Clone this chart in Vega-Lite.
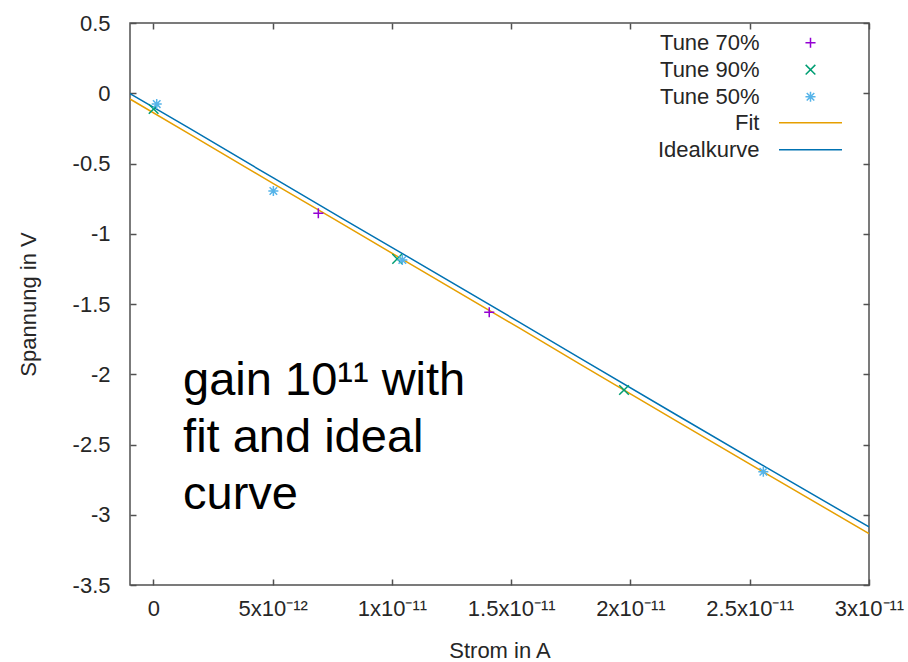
{
  "$schema": "https://vega.github.io/schema/vega-lite/v6.json",
  "width": 739,
  "height": 562,
  "autosize": {"type": "none"},
  "padding": {"left": 130, "top": 23, "right": 39, "bottom": 77},
  "background": "white",
  "datasets": {
    "points": [
      {"I": 6.915e-12, "V": -0.854, "series": "Tune 70%"},
      {"I": 1.408e-11, "V": -1.559, "series": "Tune 70%"},
      {"I": 0.01e-12, "V": -0.112, "series": "Tune 90%"},
      {"I": 1.022e-11, "V": -1.179, "series": "Tune 90%"},
      {"I": 1.973e-11, "V": -2.112, "series": "Tune 90%"},
      {"I": 0.14e-12, "V": -0.077, "series": "Tune 50%"},
      {"I": 5.03e-12, "V": -0.696, "series": "Tune 50%"},
      {"I": 1.0436e-11, "V": -1.187, "series": "Tune 50%"},
      {"I": 2.557e-11, "V": -2.694, "series": "Tune 50%"}
    ],
    "lines": [
      {"I": -0.98e-12, "V": -0.041, "series": "Fit"},
      {"I": 1.538e-12, "V": -0.293, "series": "Fit"},
      {"I": 5.03e-12, "V": -0.643, "series": "Fit"},
      {"I": 7.544e-12, "V": -0.893, "series": "Fit"},
      {"I": 10.478e-12, "V": -1.186, "series": "Fit"},
      {"I": 15.369e-12, "V": -1.674, "series": "Fit"},
      {"I": 17.884e-12, "V": -1.928, "series": "Fit"},
      {"I": 21.937e-12, "V": -2.334, "series": "Fit"},
      {"I": 25.708e-12, "V": -2.709, "series": "Fit"},
      {"I": 30.0e-12, "V": -3.134, "series": "Fit"},
      {"I": -0.98e-12, "V": -0.002, "series": "Idealkurve"},
      {"I": 1.538e-12, "V": -0.252, "series": "Idealkurve"},
      {"I": 5.03e-12, "V": -0.603, "series": "Idealkurve"},
      {"I": 8.106e-12, "V": -0.91, "series": "Idealkurve"},
      {"I": 10.478e-12, "V": -1.145, "series": "Idealkurve"},
      {"I": 15.369e-12, "V": -1.632, "series": "Idealkurve"},
      {"I": 17.884e-12, "V": -1.885, "series": "Idealkurve"},
      {"I": 21.937e-12, "V": -2.29, "series": "Idealkurve"},
      {"I": 25.708e-12, "V": -2.665, "series": "Idealkurve"},
      {"I": 30.0e-12, "V": -3.087, "series": "Idealkurve"}
    ],
    "notes": [
      {"I": 1.245e-12, "V": -2.148, "label": "gain 10¹¹ with\nfit and ideal\ncurve"}
    ]
  },
  "layer": [
    {
      "data": {"name": "lines"},
      "mark": {"type": "line", "strokeWidth": 1.5, "clip": true},
      "encoding": {
        "x": {"field": "I", "type": "quantitative", "scale": {"domain": [-0.98e-12, 3e-11], "nice": false, "zero": false}, "axis": null},
        "y": {"field": "V", "type": "quantitative", "scale": {"domain": [-3.5, 0.5], "nice": false, "zero": false}, "axis": null},
        "stroke": {
          "field": "series", "type": "nominal",
          "scale": {"domain": ["Fit", "Idealkurve"], "range": ["#E69F00", "#0072B2"]},
          "legend": {
            "title": null, "orient": "none", "legendX": 669, "legendY": 88.2,
            "symbolType": "M-3,0L3,0", "symbolSize": 441, "symbolStrokeWidth": 1.5,
            "rowPadding": 4, "labelAlign": "right", "labelOffset": -62.5,
            "padding": 0, "labelLimit": 300
          }
        }
      }
    },
    {
      "data": {"name": "points"},
      "mark": {"type": "point", "filled": false, "strokeWidth": 1.5, "size": 441, "opacity": 1},
      "encoding": {
        "x": {
          "field": "I", "type": "quantitative",
          "scale": {"domain": [-0.98e-12, 3e-11], "nice": false, "zero": false},
          "axis": {
            "orient": "bottom",
            "values": [0, 5e-12, 1e-11, 1.5e-11, 2e-11, 2.5e-11, 3e-11],
            "labelExpr": "datum.value == 0 ? '0' : (datum.value < 9e-12 ? format(datum.value * 1e12, '~g') + 'x10⁻¹²' : format(datum.value * 1e11, '~g') + 'x10⁻¹¹')",
            "title": "Strom in A", "titleX": 369.5, "titleY": 72, "titleBaseline": "alphabetic", "titleAlign": "center",
            "labelPadding": 19, "labelBaseline": "top", "labelFlush": false, "labelOverlap": false, "labelBound": false
          }
        },
        "y": {
          "field": "V", "type": "quantitative",
          "scale": {"domain": [-3.5, 0.5], "nice": false, "zero": false},
          "axis": {
            "orient": "left",
            "values": [-3.5, -3, -2.5, -2, -1.5, -1, -0.5, 0, 0.5],
            "labelExpr": "replace(format(datum.value, '~g'), '\u2212', '-')",
            "title": "Spannung in V", "titleX": -102, "titleY": 281, "titleAngle": -90, "titleBaseline": "middle", "titleAlign": "center",
            "labelPadding": 26, "labelFlush": false, "labelOverlap": false, "labelBound": false
          }
        },
        "color": {
          "field": "series", "type": "nominal",
          "scale": {"domain": ["Tune 70%", "Tune 90%", "Tune 50%"], "range": ["#9400D3", "#009E73", "#56B4E9"]},
          "legend": {
            "title": null, "orient": "none", "legendX": 669, "legendY": 8.2,
            "symbolSize": 441, "symbolStrokeWidth": 1.5,
            "rowPadding": 4, "labelAlign": "right", "labelOffset": -62.5,
            "padding": 0, "labelLimit": 300
          }
        },
        "shape": {
          "field": "series", "type": "nominal",
          "scale": {
            "domain": ["Tune 70%", "Tune 90%", "Tune 50%"],
            "range": [
              "M-0.48,0L0.48,0M0,-0.48L0,0.48",
              "M-0.46,-0.46L0.46,0.46M-0.46,0.46L0.46,-0.46",
              "M-0.48,0L0.48,0M0,-0.48L0,0.48M-0.36,-0.36L0.36,0.36M-0.36,0.36L0.36,-0.36"
            ]
          },
          "legend": {
            "title": null, "orient": "none", "legendX": 669, "legendY": 8.2,
            "symbolSize": 441, "symbolStrokeWidth": 1.5,
            "rowPadding": 4, "labelAlign": "right", "labelOffset": -62.5,
            "padding": 0, "labelLimit": 300
          }
        }
      }
    },
    {
      "data": {"name": "notes"},
      "mark": {"type": "text", "align": "left", "baseline": "alphabetic", "fontSize": 47, "lineHeight": 57, "lineBreak": "\n", "color": "#000000", "font": "Liberation Sans"},
      "encoding": {
        "x": {
          "field": "I", "type": "quantitative",
          "scale": {"domain": [-0.98e-12, 3e-11], "nice": false, "zero": false},
          "axis": {"orient": "top", "values": [0, 5e-12, 1e-11, 1.5e-11, 2e-11, 2.5e-11, 3e-11], "labels": false, "title": null}
        },
        "y": {
          "field": "V", "type": "quantitative",
          "scale": {"domain": [-3.5, 0.5], "nice": false, "zero": false},
          "axis": {"orient": "right", "values": [-3.5, -3, -2.5, -2, -1.5, -1, -0.5, 0, 0.5], "labels": false, "title": null}
        },
        "text": {"field": "label", "type": "nominal"}
      }
    }
  ],
  "resolve": {"axis": {"x": "independent", "y": "independent"}},
  "config": {
    "font": "Liberation Sans",
    "view": {"stroke": "#505050", "strokeWidth": 1.5},
    "axis": {
      "domain": false, "grid": false, "ticks": true, "tickSize": -6, "tickColor": "#505050", "tickWidth": 1.5,
      "labelFont": "Liberation Sans", "labelFontSize": 22, "labelColor": "#262626",
      "titleFont": "Liberation Sans", "titleFontSize": 22, "titleFontWeight": "normal", "titleColor": "#262626"
    },
    "legend": {
      "labelFont": "Liberation Sans", "labelFontSize": 22, "labelColor": "#262626"
    }
  }
}
